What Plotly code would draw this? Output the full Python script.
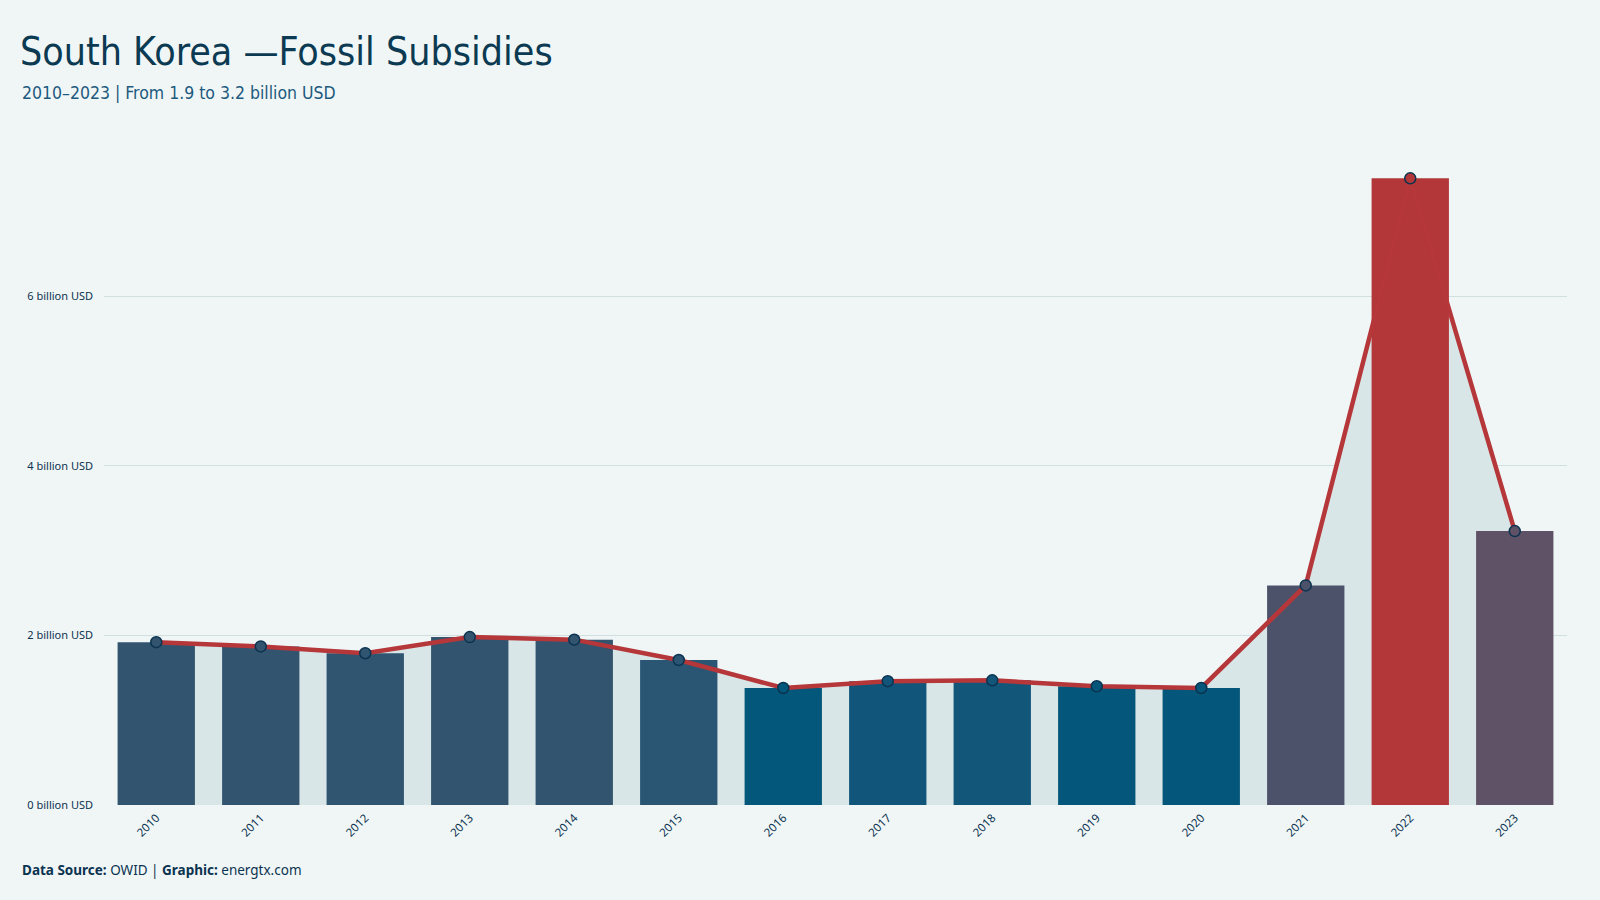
import plotly.graph_objects as go

years = ["2010", "2011", "2012", "2013", "2014", "2015", "2016",
         "2017", "2018", "2019", "2020", "2021", "2022", "2023"]
subsidies = [1.92, 1.87, 1.79, 1.98, 1.95, 1.71, 1.38,
             1.46, 1.47, 1.40, 1.38, 2.59, 7.39, 3.23]
tick_vals = [0, 2, 4, 6]
tick_text = ["0 billion USD", "2 billion USD", "4 billion USD", "6 billion USD"]

bar_colors = ["#33546f", "#33546f", "#2f5571", "#33546f", "#33546f", "#2a5573",
              "#03577a", "#11567a", "#12567a", "#04577a", "#04577a",
              "#4d526b", "#b33639", "#5f5166"]

BG = "#f0f6f6"
NAVY = "#0b3350"
YMAX = 7.76
COND = "DejaVu Sans Condensed"

fig = go.Figure()

# area under the line (drawn on primary axis, beneath bars)
fig.add_trace(go.Scatter(
    x=years, y=subsidies, mode="lines", line=dict(width=0, color="#d8e6e7"),
    fill="tozeroy", fillcolor="#d8e6e7", hoverinfo="skip", yaxis="y"))

fig.add_trace(go.Bar(
    x=years, y=subsidies, marker=dict(color=bar_colors, line=dict(width=0)),
    width=0.74, yaxis="y2"))

fig.add_trace(go.Scatter(
    x=years, y=subsidies, mode="lines+markers",
    line=dict(color="#b5373a", width=4.5),
    marker=dict(size=11, color=bar_colors, line=dict(color=NAVY, width=1.5)),
    yaxis="y2"))

fig.update_layout(
    width=1600, height=900,
    paper_bgcolor=BG, plot_bgcolor=BG,
    showlegend=False,
    margin=dict(l=104, r=33, t=147, b=95),
    title=dict(text="South Korea —Fossil Subsidies", xref="container", x=20/1600,
               xanchor="left", yref="container", y=1-51/900, yanchor="middle",
               font=dict(family=COND, size=39, color="#0b3a52")),
    xaxis=dict(type="category", range=[-0.5, 13.5], showgrid=False, zeroline=False,
               showline=False, ticks="", tickangle=-45, ticklabelstandoff=3,
               tickfont=dict(family="Noto Sans", size=11.5, color=NAVY)),
    yaxis=dict(range=[0, YMAX], tickvals=tick_vals, ticktext=tick_text,
               showgrid=True, gridcolor="#d2dfe0", gridwidth=1.2, zeroline=False,
               showline=False, ticks="", ticklabelstandoff=10,
               tickfont=dict(family="Noto Sans", size=11, color=NAVY)),
    yaxis2=dict(range=[0, YMAX], overlaying="y", visible=False, showgrid=False),
    bargap=0.26,
    annotations=[
        dict(text="2010–2023 | From 1.9 to 3.2 billion USD", xref="paper", yref="paper",
             x=(20-104)/1463, y=(805-93)/658, xanchor="left", yanchor="middle",
             showarrow=False,
             font=dict(family=COND, size=17.5, color="#1d5a7e")),
        dict(text="<b>Data Source:</b> OWID | <b>Graphic:</b> energtx.com",
             xref="paper", yref="paper", x=(20-104)/1463, y=(805-870)/658,
             xanchor="left", yanchor="middle", showarrow=False,
             font=dict(family="Noto Sans", size=13.5, color=NAVY)),
    ],
)

fig.write_html("out.html")
